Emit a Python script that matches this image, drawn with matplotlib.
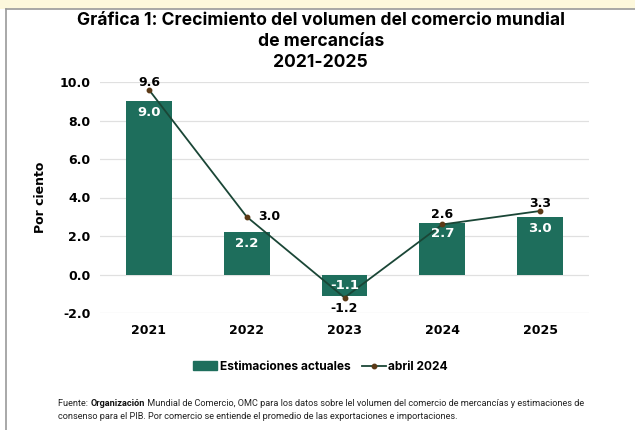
import matplotlib.pyplot as plt
from matplotlib.patches import Rectangle
from matplotlib.lines import Line2D
import numpy as np

# ── Data ──────────────────────────────────────────────────
years = ["2021", "2022", "2023", "2024", "2025"]
actuales = [9.0, 2.2, -1.1, 2.7, 3.0]
abril_2024 = [9.6, 3.0, -1.2, 2.6, 3.3]
yticks = [-2.0, 0.0, 2.0, 4.0, 6.0, 8.0, 10.0]

BAR_COLOR = "#1e6e5c"
LINE_COLOR = "#1a4636"
DOT_COLOR = "#5b3a17"
FONT = "DejaVu Sans"
TFONT = "Inter"
NFONT = "Roboto"

fig = plt.figure(figsize=(6.35, 4.3), dpi=100)

# ── Frame: yellow band on top, grey border lines ─────────
fig.patches.append(Rectangle((0, 1 - 9 / 430), 1, 9 / 430, transform=fig.transFigure,
                             facecolor="#fdf8dc", edgecolor="none", zorder=0))
fig.lines.append(Line2D([6 / 635, 1], [1 - 9 / 430] * 2, transform=fig.transFigure,
                        color="#9a9a9a", lw=1.2))
fig.lines.append(Line2D([6 / 635] * 2, [0, 1 - 9 / 430], transform=fig.transFigure,
                        color="#9a9a9a", lw=1.2))

# ── Chart ────────────────────────────────────────────────
ax = fig.add_axes([100 / 635, 1 - 313 / 430, 489 / 635, 231 / 430])
x = np.arange(len(years))

ax.bar(x, actuales, width=0.47, color=BAR_COLOR, zorder=2)
ax.plot(x, abril_2024, color=LINE_COLOR, lw=1.3, zorder=3,
        marker="o", markersize=3.2, markerfacecolor=DOT_COLOR, markeredgecolor=DOT_COLOR)

ax.set_xlim(-0.5, 4.5)
ax.set_ylim(-2, 10)
ax.set_yticks(yticks)
ax.set_yticklabels([f"{v:.1f}" for v in yticks], fontsize=9, fontweight="bold", family=FONT)
ax.set_xticks(x)
ax.set_xticklabels(years, fontsize=9, fontweight="bold", family=FONT)
ax.tick_params(axis="y", length=0, pad=7)
ax.tick_params(axis="x", length=0, pad=8)
ax.grid(axis="y", color="#e0e0e0", lw=0.9, zorder=0)
for s in ax.spines.values():
    s.set_visible(False)
ax.set_ylabel("Por ciento", fontsize=9, fontweight="bold", family=FONT, labelpad=9)

# bar labels (white, inside top)
for xi, v in zip(x, actuales):
    top = max(v, 0)
    ax.text(xi, top - 0.25, f"{v:.1f}", ha="center", va="top", color="white",
            fontsize=9.5, fontweight="bold", family=FONT, zorder=4)

# line labels
offsets = [(0, 0.05, "center", "bottom"), (0.12, 0.0, "left", "center"),
           (0, -0.25, "center", "top"), (0, 0.2, "center", "bottom"),
           (0, 0.05, "center", "bottom")]
for xi, v, (dx, dy, ha, va) in zip(x, abril_2024, offsets):
    ax.text(xi + dx, v + dy, f"{v:.1f}", ha=ha, va=va, color="black",
            fontsize=9, fontweight="bold", family=FONT, zorder=4)

# ── Title ────────────────────────────────────────────────
fig.text(0.505, 1 - 12 / 430,
         "Gráfica 1: Crecimiento del volumen del comercio mundial\nde mercancías\n2021-2025",
         ha="center", va="top", fontsize=12.6, fontweight="bold", family=TFONT,
         linespacing=1.3)

# ── Legend ───────────────────────────────────────────────
handles = [Rectangle((0, 0), 1, 1, color=BAR_COLOR),
           Line2D([], [], color=LINE_COLOR, lw=1.3, marker="o", markersize=3.2,
                  markerfacecolor=DOT_COLOR, markeredgecolor=DOT_COLOR)]
fig.legend(handles, ["Estimaciones actuales", "abril 2024"], loc="center",
           bbox_to_anchor=(0.505, 1 - 367 / 430), ncol=2, frameon=False,
           prop={"family": TFONT, "weight": "bold", "size": 8.6},
           handlelength=2.0, handleheight=0.8, handletextpad=0.2, columnspacing=1.0)

# ── Footnote ─────────────────────────────────────────────
base_y = 1 - 406 / 430
t1 = fig.text(58 / 635, base_y, "Fuente: ", fontsize=6.6, family=NFONT,
              va="baseline", color="#222222")
t2 = fig.text(0, 0, "Organización", fontsize=6.6, family=NFONT, fontweight="bold",
              va="baseline", color="#111111")
t3 = fig.text(0, 0, " Mundial de Comercio, OMC para los datos sobre lel volumen del comercio "
              "de mercancías y estimaciones de", fontsize=6.6, family=NFONT,
              va="baseline", color="#222222")
fig.text(58 / 635, 1 - 419 / 430,
         "consenso para el PIB. Por comercio se entiende el promedio de las exportaciones e importaciones.",
         fontsize=6.6, family=NFONT, va="baseline", color="#222222")

renderer = fig.canvas.get_renderer()
x_px = t1.get_window_extent(renderer).x1
t2.set_position((x_px / fig.bbox.width, base_y))
x_px = t2.get_window_extent(renderer).x1
t3.set_position((x_px / fig.bbox.width, base_y))

fig.savefig("out.png", dpi=100)
